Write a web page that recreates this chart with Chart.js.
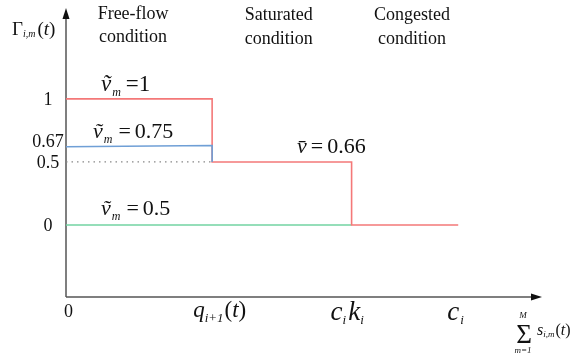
<!DOCTYPE html>
<html>
<head>
<meta charset="utf-8">
<script src="https://cdn.jsdelivr.net/npm/chart.js@4"></script>
<style>
  body { margin: 0; background: #fff; }
  canvas { display: block; }
</style>
</head>
<body>
<canvas id="stepChart" width="573" height="357"></canvas>
<script>
// breakpoints on the horizontal axis: 0, q_{i+1}(t), c_i k_i, c_i
const xBreaks = [0, 3.07, 6, 8.24];
const regions = [['Free-flow', 'condition'], ['Saturated', 'condition'], ['Congested', 'condition']];
const regionCenters = [1.41, 4.47, 7.27];

const yTicks = [0, 0.5, 0.67, 1];
const yTickLabels = ['0', '0.5', '0.67', '1'];

// series values
const redLevels = [1, 0.5, 0, 0];          // ṽm = 1, then v̄ = 0.66
const blueX = [0, 3.07, 3.07];
const blueLevels = [0.62, 0.63, 0.5];      // ṽm = 0.75
const greenX = [0, 6];
const greenLevels = [0, 0];                // ṽm = 0.5
const dotX = [0, 3.07];
const dotLevels = [0.5, 0.5];

const SERIF = '"Liberation Serif", "Times New Roman", serif';
const AXIS = '#555';

function pts(xs, ys) {
    return xs.map((x, i) => ({ x: x, y: ys[i] }));
}

// draw a row of text pieces left to right: [text, font, dy, gap]
function runs(ctx, x, y, parts) {
    parts.forEach(p => {
        ctx.font = p[1];
        ctx.fillText(p[0], x, y + (p[2] || 0));
        x += ctx.measureText(p[0]).width + (p[3] || 0);
    });
}

const overlay = {
    id: 'overlay',
    beforeDatasetsDraw(chart) {
        const ctx = chart.ctx;
        const a = chart.chartArea;
        ctx.save();
        ctx.strokeStyle = AXIS;
        ctx.fillStyle = '#111';
        ctx.lineWidth = 1.5;
        ctx.beginPath();
        ctx.moveTo(a.left, a.bottom);
        ctx.lineTo(a.left, a.top + 6);
        ctx.moveTo(a.left, a.bottom);
        ctx.lineTo(a.right - 6, a.bottom);
        ctx.stroke();
        // arrow heads
        ctx.beginPath();
        ctx.moveTo(a.left, a.top);
        ctx.lineTo(a.left - 3.5, a.top + 11);
        ctx.lineTo(a.left + 3.5, a.top + 11);
        ctx.closePath();
        ctx.fill();
        ctx.beginPath();
        ctx.moveTo(a.right, a.bottom);
        ctx.lineTo(a.right - 11, a.bottom - 3.5);
        ctx.lineTo(a.right - 11, a.bottom + 3.5);
        ctx.closePath();
        ctx.fill();
        ctx.restore();
    },
    afterDraw(chart) {
        const ctx = chart.ctx;
        const xs = chart.scales.x;
        const ys = chart.scales.y;
        ctx.save();
        ctx.fillStyle = '#111';
        ctx.textBaseline = 'alphabetic';

        // region headings
        ctx.textAlign = 'center';
        ctx.font = '18px ' + SERIF;
        regions.forEach((r, i) => {
            const cx = xs.getPixelForValue(regionCenters[i]);
            ctx.fillText(r[0], cx, i === 0 ? 19 : 20);
            ctx.fillText(r[1], cx, i === 0 ? 42 : 44);
        });

        // y ticks
        yTicks.forEach((v, i) => {
            ctx.fillText(yTickLabels[i], 48, ys.getPixelForValue(v) + 6);
        });
        ctx.textAlign = 'left';

        const it = s => 'italic ' + s + 'px ' + SERIF;
        const rm = s => s + 'px ' + SERIF;

        // y axis title
        runs(ctx, 12, 35, [['Γ', rm(19)], ['i,m', it(10), 2, 2], ['(', rm(19)], ['t', it(19)], [')', rm(19)]]);

        // x tick labels
        ctx.font = rm(18);
        ctx.fillText('0', xs.getPixelForValue(xBreaks[0]) - 2, 317);
        runs(ctx, xs.getPixelForValue(xBreaks[1]) - 19, 317,
            [['q', it(23)], ['i+1', it(13), 5, 1], ['(', rm(23)], ['t', it(23)], [')', rm(23)]]);
        runs(ctx, xs.getPixelForValue(xBreaks[2]) - 21, 320,
            [['c', it(27)], ['i', it(13), 4, 2], ['k', it(27)], ['i', it(13), 4]]);
        runs(ctx, xs.getPixelForValue(xBreaks[3]) - 11, 320,
            [['c', it(27), 0, 1], ['i', it(13), 4]]);

        // x axis title: sum of s_{i,m}(t)
        ctx.textAlign = 'center';
        ctx.font = rm(27);
        ctx.fillText('Σ', 524, 343);
        ctx.font = it(9);
        ctx.fillText('M', 523, 318);
        ctx.fillText('m=1', 523, 353);
        ctx.textAlign = 'left';
        runs(ctx, 537, 335, [['s', it(16)], ['i,m', it(9), 2, 1], ['(', rm(16)], ['t', it(16)], [')', rm(16)]]);

        // series labels
        runs(ctx, 101, 91, [['ṽ', it(23), 0, 1], ['m', it(12), 5, 5], ['=1', rm(23)]]);
        runs(ctx, 93, 138, [['ṽ', it(22), 0, 1], ['m', it(12), 5, 6], ['=', rm(22), 0, 4], ['0.75', rm(22)]]);
        runs(ctx, 297, 153, [['v̄', it(22), 0, 4], ['=', rm(22), 0, 4], ['0.66', rm(22)]]);
        runs(ctx, 101, 215, [['ṽ', it(22), 0, 1], ['m', it(12), 5, 6], ['=', rm(22), 0, 4], ['0.5', rm(22)]]);

        ctx.restore();
    }
};

const ctx = document.getElementById('stepChart').getContext('2d');
new Chart(ctx, {
    type: 'scatter',
    data: {
        datasets: [
            {
                label: 'ṽm = 0.75',
                data: pts(blueX, blueLevels),
                borderColor: '#6f9fd6',
                borderWidth: 1.6
            },
            {
                label: 'ṽm = 1',
                data: pts(xBreaks, redLevels),
                borderColor: '#f47878',
                borderWidth: 1.6,
                stepped: 'before'
            },
            {
                label: 'ṽm = 0.5',
                data: pts(greenX, greenLevels),
                borderColor: '#72d3a2',
                borderWidth: 1.6
            },
            {
                label: 'threshold',
                data: pts(dotX, dotLevels),
                borderColor: '#888',
                borderWidth: 1.2,
                borderDash: [1.5, 4]
            }
        ]
    },
    options: {
        responsive: false,
        animation: false,
        showLine: true,
        elements: {
            point: { radius: 0, hoverRadius: 0 },
            line: { tension: 0, fill: false }
        },
        layout: { padding: { left: 66, right: 31, top: 8, bottom: 60 } },
        plugins: {
            legend: { display: false },
            tooltip: { enabled: false }
        },
        scales: {
            x: { type: 'linear', min: 0, max: 10, display: false },
            y: { type: 'linear', min: -0.57, max: 1.72, display: false }
        }
    },
    plugins: [overlay]
});
</script>
</body>
</html>
